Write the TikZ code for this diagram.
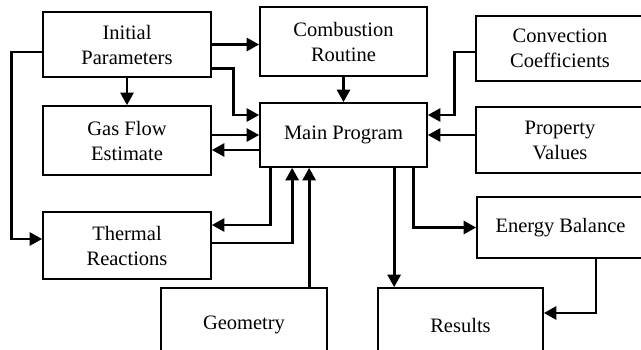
\documentclass[tikz,border=0pt]{standalone}
\usepackage{fontspec}
\setmainfont{Liberation Serif}
\usetikzlibrary{arrows.meta,calc}
\begin{document}
\begin{tikzpicture}[x=1pt,y=-1pt,
  box/.style={draw,line width=1.7pt,inner sep=0pt,align=center,font=\fontsize{20.5}{25}\selectfont},
  conn/.style={line width=2.8pt,-{Triangle[length=12.5pt,width=13pt]}}]
\useasboundingbox (0,0) rectangle (641,349);
\node[box,minimum width=168pt,minimum height=65pt] (init) at (127,44.5) {Initial\\Parameters};
\node[box,minimum width=168pt,minimum height=69pt] (gas) at (127,140.5) {Gas Flow\\Estimate};
\node[box,minimum width=167pt,minimum height=69pt] (comb) at (343.5,41.5) {Combustion\\Routine};
\node[box,minimum width=167pt,minimum height=64pt] (main) at (343.5,135) {Main Program};
\node[box,minimum width=168pt,minimum height=65pt] (conv) at (560,48.5) {Convection\\Coefficients};
\node[box,minimum width=168pt,minimum height=66pt] (prop) at (560,140) {Property\\Values};
\node[box,minimum width=168pt,minimum height=67pt] (therm) at (127,245.5) {Thermal\\Reactions};
\node[box,minimum width=167pt,minimum height=61pt] (energy) at (560.5,227.5) {Energy Balance};
\node[box,minimum width=166pt,minimum height=74pt] (geom) at (244,325) {Geometry};
\node[box,minimum width=165pt,minimum height=74pt] (res) at (460.5,325) {Results};

\coordinate (mthin) at ([xshift=11pt]main.south west);
\coordinate (mthout) at ([xshift=33pt]main.south west);
\coordinate (mgeo) at ([xshift=50pt]main.south west);
\coordinate (mres) at ([xshift=135pt]main.south west);
\coordinate (men) at ([xshift=154pt]main.south west);

\draw[conn] (init.east) -- (comb.west |- init.east);
\draw[conn] ([yshift=9pt]init.south east) -- ++(22,0) |- ([yshift=20pt]main.west);
\draw[conn] (init.south) -- (gas.north);
\draw[conn] ([yshift=5.5pt]gas.east) -- (main.west);
\draw[conn] ([yshift=-15pt]main.west) -- ([yshift=-9.5pt]gas.east);
\draw[conn] ([yshift=-7.5pt]init.west) -- ++(-31,0) |- ([yshift=6.5pt]therm.west);
\draw[conn] (comb.south) -- (main.north);
\draw[conn] ([yshift=-3.5pt]conv.west) -- ++(-21,0) |- ([yshift=20pt]main.east);
\draw[conn] (prop.west |- main.east) -- (main.east);
\draw[conn] (mthin) |- ([yshift=20.5pt]therm.east);
\draw[conn] ([yshift=2.5pt]therm.east) -| (mthout);
\draw[conn] (geom.north -| mgeo) -- (mgeo);
\draw[conn] (mres) -- (res.north -| mres);
\draw[conn] (men) |- (energy.west);
\draw[conn] ([xshift=35.5pt]energy.south) |- ([yshift=12pt]res.east);
\end{tikzpicture}
\end{document}
